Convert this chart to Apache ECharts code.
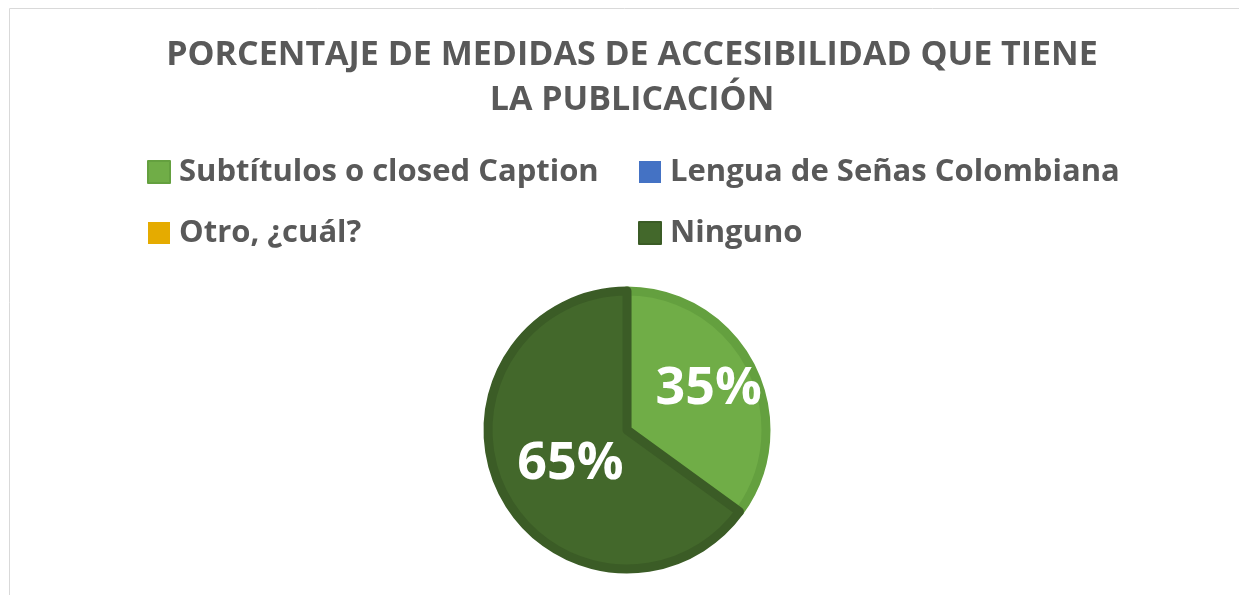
<!DOCTYPE html>
<html>
<head>
<meta charset="utf-8">
<script src="https://cdn.jsdelivr.net/npm/echarts@6/dist/echarts.min.js"></script>
<style>
  html, body { margin: 0; padding: 0; background: #fff; }
  #chart { width: 1239px; height: 595px; }
</style>
</head>
<body>
<div id="chart"></div>
<script>
const titleText = 'PORCENTAJE DE MEDIDAS DE ACCESIBILIDAD QUE TIENE\nLA PUBLICACIÓN';
const categories = ['Subtítulos o closed Caption', 'Lengua de Señas Colombiana', 'Otro, ¿cuál?', 'Ninguno'];
const values = [35, 0, 0, 65];
const colors = ['#70AD47', '#4472C4', '#E5AB00', '#43682B'];
const borders = ['#64A03F', '#4472C4', '#E5AB00', '#3B5C26'];

const chart = echarts.init(document.getElementById('chart'));
const font = '"Open Sans", sans-serif';

const legendText = {
    fontFamily: font,
    fontSize: 31,
    fontWeight: 'bold',
    color: '#595959',
    lineHeight: 36,
    padding: [0, 0, 0, 4],
};

chart.setOption({
    animation: false,
    color: colors,
    title: {
        text: titleText,
        left: 627,
        textAlign: 'center',
        top: 28,
        textStyle: {
            fontFamily: font,
            fontSize: 34,
            fontWeight: 'bold',
            color: '#595959',
            lineHeight: 45,
        },
    },
    legend: [
        {
            data: [categories[0], categories[2]],
            orient: 'vertical',
            left: 147,
            top: 154,
            padding: 0,
            itemWidth: 22,
            itemHeight: 22,
            itemGap: 25,
            icon: 'rect',
            selectedMode: false,
            textStyle: legendText,
        },
        {
            data: [categories[1], categories[3]],
            orient: 'vertical',
            left: 638,
            top: 154,
            padding: 0,
            itemWidth: 22,
            itemHeight: 22,
            itemGap: 25,
            icon: 'rect',
            selectedMode: false,
            textStyle: legendText,
        },
    ],
    graphic: [
        {
            type: 'rect',
            shape: { x: 9.5, y: 8.5, width: 1400, height: 800 },
            style: { fill: 'none', stroke: '#D9D9D9', lineWidth: 1 },
            silent: true,
        },
    ],
    series: [
        {
            type: 'pie',
            center: [627, 430],
            radius: 139,
            startAngle: 90,
            clockwise: true,
            avoidLabelOverlap: false,
            label: {
                show: true,
                position: 'inside',
                formatter: '{d}%',
                fontFamily: font,
                fontSize: 52,
                fontWeight: 'bold',
                color: '#ffffff',
            },
            labelLine: { show: false },
            labelLayout: (params) => (params.dataIndex === 0 ? { dx: 17, dy: -8 } : { dx: 8, dy: 1 }),
            emphasis: { disabled: true },
            data: categories.map((name, i) => ({
                name: name,
                value: values[i],
                itemStyle: {
                    color: colors[i],
                    borderColor: borders[i],
                    borderWidth: values[i] > 0 ? 9 : 0,
                },
                label: { show: values[i] > 0 },
            })),
        },
    ],
});
</script>
</body>
</html>
